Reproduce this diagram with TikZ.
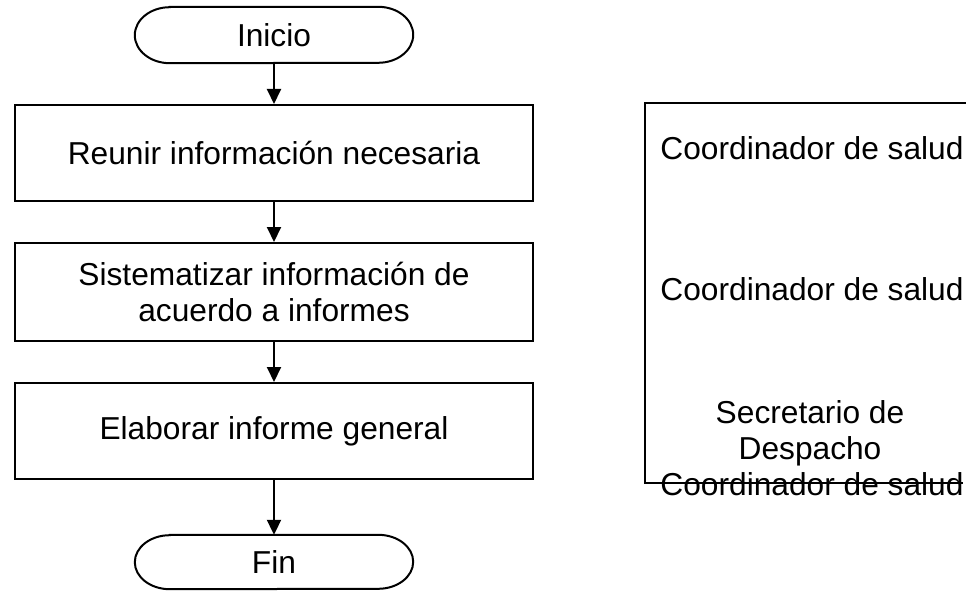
\documentclass[tikz,border=0pt]{standalone}
\usepackage{fontspec}
\setmainfont{Liberation Sans}
\usetikzlibrary{arrows.meta}
\begin{document}
\begin{tikzpicture}[x=1pt,y=-1pt,
  every node/.style={font=\fontsize{31.7}{36}\selectfont, inner sep=0pt},
  stepbox/.style={draw, line width=2pt, minimum width=518pt, align=center},
  term/.style={minimum width=278pt, minimum height=56pt},
  flow/.style={line width=2pt, -{Triangle[length=15pt,width=14pt]}},
  lbl/.style={anchor=base}]
\useasboundingbox (0,0) rectangle (966,591);
% terminals
\node[term] (ini) at (274,35) {Inicio};
\draw[line width=2pt] ([xshift=35pt]ini.north west) -- ([xshift=-35pt]ini.north east)
  arc[start angle=90,end angle=-90,x radius=35pt,y radius=28pt]
  -- ([xshift=35pt]ini.south west)
  arc[start angle=270,end angle=90,x radius=35pt,y radius=28pt] -- cycle;
\node[stepbox, minimum height=96pt] (b1) at (274,153) {Reunir información necesaria};
\node[stepbox, minimum height=98pt] (b2) at (274,292) {Sistematizar información de\\acuerdo a informes};
\node[stepbox, minimum height=96pt] (b3) at (274,431) {Elaborar informe general};
\node[term, minimum height=54pt] (fin) at (274,562) {Fin};
\draw[line width=2pt] ([xshift=35pt]fin.north west) -- ([xshift=-35pt]fin.north east)
  arc[start angle=90,end angle=-90,x radius=35pt,y radius=27pt]
  -- ([xshift=35pt]fin.south west)
  arc[start angle=270,end angle=90,x radius=35pt,y radius=27pt] -- cycle;
% connectors
\draw[flow] (ini.south) -- (b1.north);
\draw[flow] (b1.south) -- (b2.north);
\draw[flow] (b2.south) -- (b3.north);
\draw[flow] (b3.south) -- (fin.north);
% right panel
\node[lbl] (r1) at (812,160) {Coordinador de salud};
\node[lbl] (r2) at (812,300) {Coordinador de salud};
\node[lbl] (r3) at (810,423) {Secretario de};
\node[lbl] (r4) at (810,459) {Despacho};
\node[lbl] (r5) at (812,495) {Coordinador de salud};
\coordinate (pTR) at (966,103);
\coordinate (pTL) at (645,103);
\coordinate (pBL) at (645,483);
\coordinate (pBR) at (963,483);
\draw[line width=2pt] (pTR) -- (pTL) -- (pBL) -- (pBR);
\end{tikzpicture}
\end{document}
